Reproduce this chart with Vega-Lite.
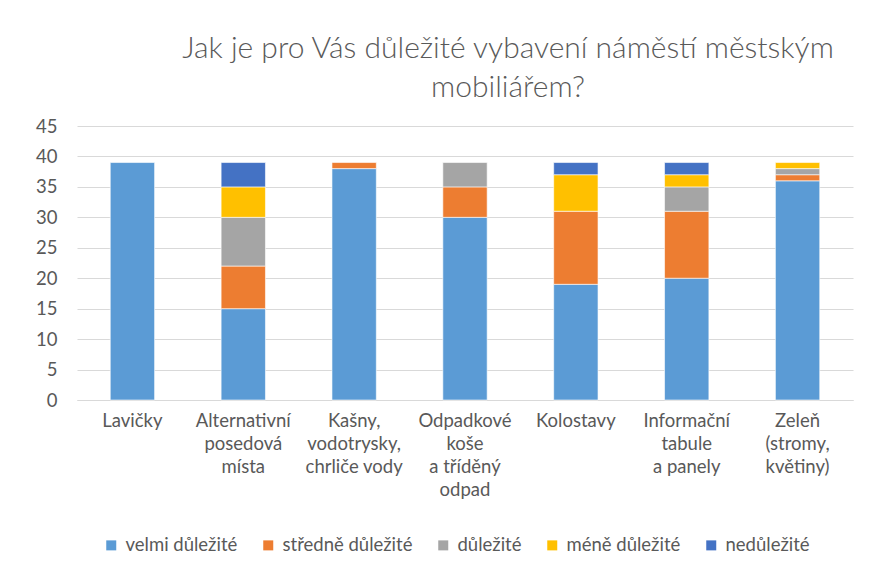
{
  "$schema": "https://vega.github.io/schema/vega-lite/v6.json",
  "width": 776,
  "height": 274,
  "autosize": "none",
  "padding": {"left": 77, "top": 126, "right": 33, "bottom": 178},
  "background": "white",
  "title": {
    "text": ["Jak je pro Vás důležité vybavení náměstí městským", "mobiliářem?"],
    "font": "Lato",
    "fontWeight": 300,
    "fontSize": 30,
    "color": "#595959",
    "lineHeight": 39,
    "anchor": "middle",
    "dx": 43,
    "offset": 14
  },
  "data": {
    "values": [
      {"kategorie": "Lavičky", "odpoved": "velmi důležité", "poradi": 1, "pocet": 39},
      {"kategorie": "Alternativní posedová místa", "odpoved": "velmi důležité", "poradi": 1, "pocet": 15},
      {"kategorie": "Alternativní posedová místa", "odpoved": "středně důležité", "poradi": 2, "pocet": 7},
      {"kategorie": "Alternativní posedová místa", "odpoved": "důležité", "poradi": 3, "pocet": 8},
      {"kategorie": "Alternativní posedová místa", "odpoved": "méně důležité", "poradi": 4, "pocet": 5},
      {"kategorie": "Alternativní posedová místa", "odpoved": "nedůležité", "poradi": 5, "pocet": 4},
      {"kategorie": "Kašny, vodotrysky, chrliče vody", "odpoved": "velmi důležité", "poradi": 1, "pocet": 38},
      {"kategorie": "Kašny, vodotrysky, chrliče vody", "odpoved": "středně důležité", "poradi": 2, "pocet": 1},
      {"kategorie": "Odpadkové koše a tříděný odpad", "odpoved": "velmi důležité", "poradi": 1, "pocet": 30},
      {"kategorie": "Odpadkové koše a tříděný odpad", "odpoved": "středně důležité", "poradi": 2, "pocet": 5},
      {"kategorie": "Odpadkové koše a tříděný odpad", "odpoved": "důležité", "poradi": 3, "pocet": 4},
      {"kategorie": "Kolostavy", "odpoved": "velmi důležité", "poradi": 1, "pocet": 19},
      {"kategorie": "Kolostavy", "odpoved": "středně důležité", "poradi": 2, "pocet": 12},
      {"kategorie": "Kolostavy", "odpoved": "méně důležité", "poradi": 4, "pocet": 6},
      {"kategorie": "Kolostavy", "odpoved": "nedůležité", "poradi": 5, "pocet": 2},
      {"kategorie": "Informační tabule a panely", "odpoved": "velmi důležité", "poradi": 1, "pocet": 20},
      {"kategorie": "Informační tabule a panely", "odpoved": "středně důležité", "poradi": 2, "pocet": 11},
      {"kategorie": "Informační tabule a panely", "odpoved": "důležité", "poradi": 3, "pocet": 4},
      {"kategorie": "Informační tabule a panely", "odpoved": "méně důležité", "poradi": 4, "pocet": 2},
      {"kategorie": "Informační tabule a panely", "odpoved": "nedůležité", "poradi": 5, "pocet": 2},
      {"kategorie": "Zeleň (stromy, květiny)", "odpoved": "velmi důležité", "poradi": 1, "pocet": 36},
      {"kategorie": "Zeleň (stromy, květiny)", "odpoved": "středně důležité", "poradi": 2, "pocet": 1},
      {"kategorie": "Zeleň (stromy, květiny)", "odpoved": "důležité", "poradi": 3, "pocet": 1},
      {"kategorie": "Zeleň (stromy, květiny)", "odpoved": "méně důležité", "poradi": 4, "pocet": 1}
    ]
  },
  "mark": {"type": "bar", "stroke": "white", "strokeWidth": 0.6},
  "encoding": {
    "x": {
      "field": "kategorie",
      "type": "nominal",
      "sort": ["Lavičky", "Alternativní posedová místa", "Kašny, vodotrysky, chrliče vody", "Odpadkové koše a tříděný odpad", "Kolostavy", "Informační tabule a panely", "Zeleň (stromy, květiny)"],
      "scale": {"paddingInner": 0.6, "paddingOuter": 0.3},
      "axis": {
        "title": null,
        "labelAngle": 0,
        "labelFont": "Lato",
        "labelFontSize": 18.5,
        "labelColor": "#595959",
        "labelLineHeight": 23,
        "labelPadding": 11,
        "labelBaseline": "top",
        "labelLimit": 200,
        "ticks": false,
        "domainColor": "#D9D9D9",
        "domainWidth": 1,
        "labelExpr": "datum.label == 'Alternativní posedová místa' ? ['Alternativní', 'posedová', 'místa'] : datum.label == 'Kašny, vodotrysky, chrliče vody' ? ['Kašny,', 'vodotrysky,', 'chrliče vody'] : datum.label == 'Odpadkové koše a tříděný odpad' ? ['Odpadkové', 'koše', 'a tříděný', 'odpad'] : datum.label == 'Informační tabule a panely' ? ['Informační', 'tabule', 'a panely'] : datum.label == 'Zeleň (stromy, květiny)' ? ['Zeleň', '(stromy,', 'květiny)'] : datum.label"
      }
    },
    "y": {
      "field": "pocet",
      "type": "quantitative",
      "stack": "zero",
      "scale": {"domain": [0, 45], "nice": false},
      "axis": {
        "title": null,
        "values": [0, 5, 10, 15, 20, 25, 30, 35, 40, 45],
        "labelFont": "Lato",
        "labelFontSize": 18.5,
        "labelColor": "#595959",
        "labelPadding": 20,
        "ticks": false,
        "domain": false,
        "gridColor": "#D9D9D9",
        "gridWidth": 1
      }
    },
    "color": {
      "field": "odpoved",
      "type": "nominal",
      "scale": {
        "domain": ["velmi důležité", "středně důležité", "důležité", "méně důležité", "nedůležité"],
        "range": ["#5B9BD5", "#ED7D31", "#A5A5A5", "#FFC000", "#4472C4"]
      },
      "legend": {
        "title": null,
        "orient": "none",
        "legendX": 25,
        "legendY": 410,
        "direction": "horizontal",
        "columns": 5,
        "symbolType": "square",
        "symbolSize": 100,
        "symbolStrokeWidth": 0,
        "labelFont": "Lato",
        "labelFontSize": 18.5,
        "labelColor": "#595959",
        "columnPadding": 21,
        "labelOffset": 5
      }
    },
    "order": {"field": "poradi", "type": "quantitative", "sort": "ascending"}
  },
  "config": {
    "view": {"stroke": null}
  }
}
